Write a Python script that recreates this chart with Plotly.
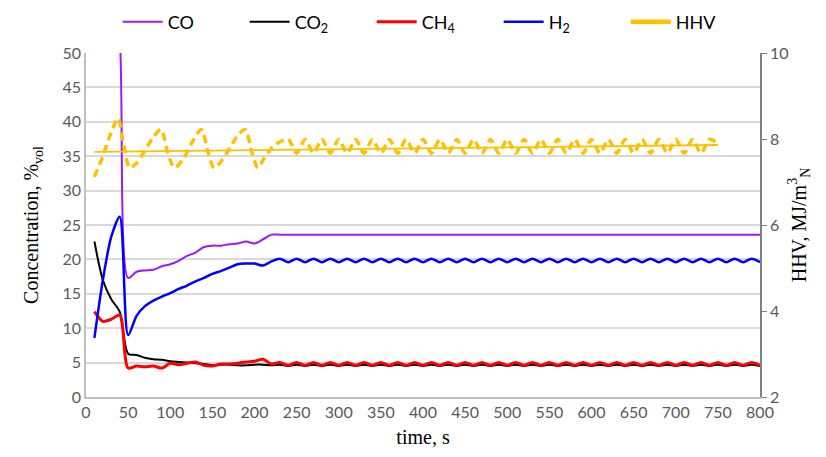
import plotly.graph_objects as go

# time grid (s) for gas concentrations
time_s = list(range(10, 810, 10))

co = [62, 64, 60, 52, 17.3, 18.2, 18.4, 18.5, 19.0, 19.3, 19.8, 20.5, 21.0, 21.8, 22.0, 22.0,
      22.2, 22.3, 22.6, 22.3, 22.9, 23.6,
      23.6, 23.6, 23.6, 23.6, 23.6, 23.6, 23.6, 23.6, 23.6, 23.6, 23.6, 23.6, 23.6, 23.6, 23.6,
      23.6, 23.6, 23.6, 23.6, 23.6, 23.6, 23.6, 23.6, 23.6, 23.6, 23.6, 23.6, 23.6, 23.6, 23.6,
      23.6, 23.6, 23.6, 23.6, 23.6, 23.6, 23.6, 23.6, 23.6, 23.6, 23.6, 23.6, 23.6, 23.6, 23.6,
      23.6, 23.6, 23.6, 23.6, 23.6, 23.6, 23.6, 23.6, 23.6, 23.6, 23.6, 23.6, 23.6]

co2 = [22.6, 17.0, 14.2, 12.4, 6.3, 6.1, 5.7, 5.5, 5.4, 5.2, 5.1, 5.0, 4.9, 4.8, 4.6, 4.7,
       4.7, 4.6, 4.6, 4.7, 4.7, 4.6,
       4.7, 4.5, 4.7, 4.5, 4.7, 4.5, 4.7, 4.5, 4.7, 4.5, 4.7, 4.5, 4.7, 4.5, 4.7, 4.5,
       4.7, 4.5, 4.7, 4.5, 4.7, 4.5, 4.7, 4.5, 4.7, 4.5, 4.7, 4.5, 4.7, 4.5, 4.7, 4.5,
       4.7, 4.5, 4.7, 4.5, 4.7, 4.5, 4.7, 4.5, 4.7, 4.5, 4.7, 4.5, 4.7, 4.5, 4.7, 4.5,
       4.7, 4.5, 4.7, 4.5, 4.7, 4.5, 4.7, 4.5, 4.7, 4.5]

ch4 = [12.4, 11.0, 11.3, 11.9, 4.2, 4.5, 4.4, 4.5, 4.2, 4.9, 4.7, 4.9, 5.1, 4.6, 4.5, 4.8,
       4.8, 4.9, 5.1, 5.2, 5.5, 4.8,
       5.0, 4.6, 5.0, 4.6, 5.0, 4.6, 5.0, 4.6, 5.0, 4.6, 5.0, 4.6, 5.0, 4.6, 5.0, 4.6,
       5.0, 4.6, 5.0, 4.6, 5.0, 4.6, 5.0, 4.6, 5.0, 4.6, 5.0, 4.6, 5.0, 4.6, 5.0, 4.6,
       5.0, 4.6, 5.0, 4.6, 5.0, 4.6, 5.0, 4.6, 5.0, 4.6, 5.0, 4.6, 5.0, 4.6, 5.0, 4.6,
       5.0, 4.6, 5.0, 4.6, 5.0, 4.6, 5.0, 4.6, 5.0, 4.6]

h2 = [8.6, 17.0, 23.3, 26.2, 9.0, 11.8, 13.2, 14.0, 14.6, 15.1, 15.7, 16.2, 16.8, 17.3, 17.9, 18.3,
      18.8, 19.3, 19.4, 19.4, 19.1, 19.7,
      20.1, 19.6, 20.1, 19.6, 20.1, 19.6, 20.1, 19.6, 20.1, 19.6, 20.1, 19.6, 20.1, 19.6, 20.1, 19.6,
      20.1, 19.6, 20.1, 19.6, 20.1, 19.6, 20.1, 19.6, 20.1, 19.6, 20.1, 19.6, 20.1, 19.6, 20.1, 19.6,
      20.1, 19.6, 20.1, 19.6, 20.1, 19.6, 20.1, 19.6, 20.1, 19.6, 20.1, 19.6, 20.1, 19.6, 20.1, 19.6,
      20.1, 19.6, 20.1, 19.6, 20.1, 19.6, 20.1, 19.6, 20.1, 19.6]

# HHV (MJ/m3N)
hhv_time = [10, 20, 30, 38, 45, 52, 60, 70, 80, 89, 97, 105, 115, 125, 137, 145, 152, 162, 172,
            182, 189, 197, 204, 212, 224,
            240, 250, 260, 270, 280, 290, 300, 310, 320, 330, 340, 350, 360, 370, 380, 390,
            400, 410, 420, 430, 440, 450, 460, 470, 480, 490, 500, 510, 520, 530, 540, 550,
            560, 570, 580, 590, 600, 610, 620, 630, 640, 650, 660, 670, 680, 690, 700, 710,
            720, 730, 740, 750]
hhv = [7.12, 7.60, 8.16, 8.48, 7.84, 7.33, 7.44, 7.73, 8.05, 8.22, 7.68, 7.33, 7.52, 7.89, 8.22,
       7.68, 7.33, 7.52, 7.84, 8.13, 8.22, 7.68, 7.33, 7.57, 7.86,
       7.99, 7.67, 7.99, 7.67, 7.99, 7.67, 7.99, 7.67, 7.99, 7.67, 7.99, 7.67, 7.99, 7.67, 7.99, 7.67,
       7.99, 7.67, 7.99, 7.67, 7.99, 7.67, 7.99, 7.67, 7.99, 7.67, 7.99, 7.67, 7.99, 7.67, 7.99, 7.67,
       7.99, 7.67, 7.99, 7.67, 7.99, 7.67, 7.99, 7.67, 7.99, 7.67, 7.99, 7.67, 7.99, 7.67, 7.99, 7.67,
       7.99, 7.67, 7.99, 7.90]

trend_time = [10, 750]
trend_hhv = [7.70, 7.86]

C_CO = "#9B1BF2"
C_CO2 = "#000000"
C_CH4 = "#FF0000"
C_H2 = "#0000FF"
C_HHV = "#FFC000"

fig = go.Figure()
sp = dict(shape="spline", smoothing=0.8)
fig.add_trace(go.Scatter(x=time_s, y=co, name="CO", mode="lines",
                         line=dict(color=C_CO, width=2, **sp)))
fig.add_trace(go.Scatter(x=time_s, y=co2, name="CO<sub>2</sub>", mode="lines",
                         line=dict(color=C_CO2, width=2, **sp)))
fig.add_trace(go.Scatter(x=time_s, y=ch4, name="CH<sub>4</sub>", mode="lines",
                         line=dict(color=C_CH4, width=3, **sp)))
fig.add_trace(go.Scatter(x=time_s, y=h2, name="H<sub>2</sub>", mode="lines",
                         line=dict(color=C_H2, width=2.5, **sp)))
fig.add_trace(go.Scatter(x=trend_time, y=trend_hhv, yaxis="y2", mode="lines", showlegend=False,
                         line=dict(color=C_HHV, width=1.8)))
fig.add_trace(go.Scatter(x=hhv_time, y=hhv, yaxis="y2", mode="lines", showlegend=False,
                         line=dict(color=C_HHV, width=3.5, dash="8px,5px", **sp)))
fig.add_trace(go.Scatter(x=[None], y=[None], yaxis="y2", name="HHV", mode="lines",
                         line=dict(color=C_HHV, width=4.5)))

tickfont = dict(family="Lato, Open Sans, sans-serif", size=16, color="#595959")
titlefont = dict(family="Liberation Serif, Times New Roman, serif", size=20, color="#000000")

fig.update_layout(
    width=826, height=457,
    margin=dict(l=78, r=74, t=45, b=68, autoexpand=False),
    paper_bgcolor="white", plot_bgcolor="white",
    showlegend=True,
    legend=dict(orientation="h", x=0.047, xanchor="left", y=1.09, yanchor="middle",
                font=dict(family="Lato, Open Sans, sans-serif", size=18, color="#000000"),
                entrywidth=72, entrywidthmode="pixels", itemwidth=40,
                bgcolor="rgba(0,0,0,0)", traceorder="normal"),
    xaxis=dict(range=[0, 800], dtick=50, tick0=0, showgrid=False, zeroline=False,
               showline=True, linecolor="#BFBFBF", linewidth=1.5, ticks="",
               tickfont=tickfont, automargin=False,
               title=dict(text="time, s", font=titlefont, standoff=10)),
    yaxis=dict(range=[0, 50], dtick=5, tick0=0, showgrid=True, gridcolor="#D9D9D9", gridwidth=1.5,
               zeroline=False, showline=True, linecolor="#BFBFBF", linewidth=1.5, ticks="",
               tickfont=tickfont, automargin=False,
               title=dict(text="Concentration, %<sub>vol</sub>", font=titlefont, standoff=18)),
    yaxis2=dict(range=[2, 10], dtick=2, tick0=2, overlaying="y", side="right", showgrid=False,
                zeroline=False, showline=True, linecolor="#808080", linewidth=1.5,
                ticks="outside", ticklen=5, tickcolor="#808080",
                tickfont=tickfont, automargin=False,
                title=dict(text="HHV, MJ/m<sup>3</sup><sub>N</sub>", font=titlefont, standoff=4)),
)

fig.write_html("out.html")
